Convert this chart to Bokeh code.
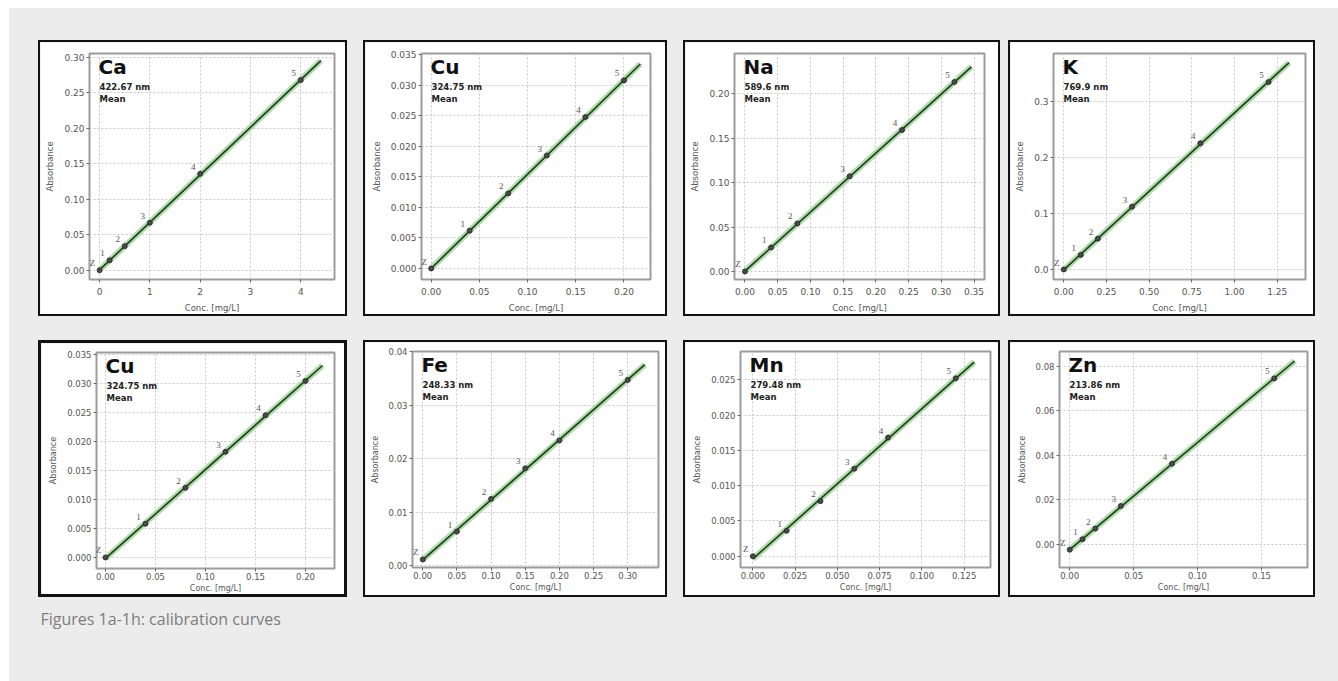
import numpy as np
from bokeh.plotting import figure
from bokeh.models import Range1d, FixedTicker, PrintfTickFormatter, ColumnDataSource, LabelSet, Label, Spacer
from bokeh.layouts import row, column
from bokeh.embed import file_html
from bokeh.resources import INLINE

# ---------------- data ----------------
elements = ["Ca", "Cu", "Na", "K", "Cu", "Fe", "Mn", "Zn"]
wavelengths = ["422.67 nm", "324.75 nm", "589.6 nm", "769.9 nm",
               "324.75 nm", "248.33 nm", "279.48 nm", "213.86 nm"]
point_labels = ["Z", "1", "2", "3", "4", "5"]
x_title = "Conc. [mg/L]"
y_title = "Absorbance"
caption = "Figures 1a-1h: calibration curves"

ca_conc = [0.0, 0.2, 0.5, 1.0, 2.0, 4.0]
ca_abs = [0.0, 0.014, 0.034, 0.067, 0.136, 0.268]
cu_conc = [0.0, 0.04, 0.08, 0.12, 0.16, 0.20]
cu_abs = [0.0, 0.0062, 0.0123, 0.0185, 0.0248, 0.0308]
na_conc = [0.0, 0.04, 0.08, 0.16, 0.24, 0.32]
na_abs = [0.0, 0.027, 0.054, 0.107, 0.159, 0.213]
k_conc = [0.0, 0.1, 0.2, 0.4, 0.8, 1.2]
k_abs = [0.0, 0.026, 0.055, 0.112, 0.225, 0.334]
cu2_conc = [0.0, 0.04, 0.08, 0.12, 0.16, 0.20]
cu2_abs = [0.0, 0.0058, 0.0120, 0.0182, 0.0245, 0.0304]
fe_conc = [0.0, 0.05, 0.10, 0.15, 0.20, 0.30]
fe_abs = [0.0012, 0.0064, 0.0125, 0.0182, 0.0234, 0.0347]
mn_conc = [0.0, 0.02, 0.04, 0.06, 0.08, 0.12]
mn_abs = [0.0, 0.0036, 0.0078, 0.0124, 0.0168, 0.0252]
zn_conc = [0.0, 0.01, 0.02, 0.04, 0.08, 0.16]
zn_abs = [-0.0025, 0.0022, 0.0070, 0.0172, 0.0362, 0.0746]

# end of the drawn calibration line (mg/L)
fit_end = [4.4, 0.217, 0.346, 1.32, 0.217, 0.325, 0.131, 0.176]

# tick values
ca_xticks = [0, 1, 2, 3, 4]
ca_yticks = [0.0, 0.05, 0.10, 0.15, 0.20, 0.25, 0.30]
cu_xticks = [0.0, 0.05, 0.10, 0.15, 0.20]
cu_yticks = [0.0, 0.005, 0.010, 0.015, 0.020, 0.025, 0.030, 0.035]
na_xticks = [0.0, 0.05, 0.10, 0.15, 0.20, 0.25, 0.30, 0.35]
na_yticks = [0.0, 0.05, 0.10, 0.15, 0.20]
k_xticks = [0.0, 0.25, 0.50, 0.75, 1.00, 1.25]
k_yticks = [0.0, 0.1, 0.2, 0.3]
fe_xticks = [0.0, 0.05, 0.10, 0.15, 0.20, 0.25, 0.30]
fe_yticks = [0.0, 0.01, 0.02, 0.03, 0.04]
mn_xticks = [0.0, 0.025, 0.050, 0.075, 0.100, 0.125]
mn_yticks = [0.0, 0.005, 0.010, 0.015, 0.020, 0.025]
zn_xticks = [0.0, 0.05, 0.10, 0.15]
zn_yticks = [0.0, 0.02, 0.04, 0.06, 0.08]

# axis extents
x_ranges = [(-0.2, 4.67), (-0.010, 0.2275), (-0.016, 0.366), (-0.06, 1.416),
            (-0.009, 0.229), (-0.015, 0.345), (-0.0073, 0.1406), (-0.008, 0.186)]
y_ranges = [(-0.013, 0.3055), (-0.0018, 0.0352), (-0.009, 0.245), (-0.0178, 0.385),
            (-0.0019, 0.0353), (-0.0003, 0.040), (-0.0016, 0.029), (-0.0105, 0.0867)]

conc_sets = [ca_conc, cu_conc, na_conc, k_conc, cu2_conc, fe_conc, mn_conc, zn_conc]
abs_sets = [ca_abs, cu_abs, na_abs, k_abs, cu2_abs, fe_abs, mn_abs, zn_abs]
xtick_sets = [ca_xticks, cu_xticks, na_xticks, k_xticks, cu_xticks, fe_xticks, mn_xticks, zn_xticks]
ytick_sets = [ca_yticks, cu_yticks, na_yticks, k_yticks, cu_yticks, fe_yticks, mn_yticks, zn_yticks]
xfmt = ["%.0f", "%.2f", "%.2f", "%.2f", "%.2f", "%.2f", "%.3f", "%.2f"]
yfmt = ["%.2f", "%.3f", "%.2f", "%.1f", "%.3f", "%.2f", "%.3f", "%.2f"]

# ---------------- layout / style ----------------
BG = "#ececec"
# outer size of each white panel (incl. its black border)
panel_w = [309, 304, 317, 307, 309, 304, 317, 307]
panel_h = [276, 276, 276, 276, 257, 257, 257, 257]
# (left, right, top, bottom) space from the panel's outer edge to the plot frame
frame_pad = [(51, 17, 11, 39), (58, 21, 13, 40), (51, 20, 8, 41), (45, 14, 11, 38),
             (58, 19, 10, 34), (49, 13, 10, 34), (57, 14, 11, 34), (51, 12, 11, 34)]
box_line = [2, 2, 2, 2, 3, 2, 2, 2]

TICK_FONT = "DejaVu Sans"


def make_panel(i):
    bw = box_line[i]
    l, r, t, b = frame_pad[i]
    top_row = i < 4
    p = figure(width=panel_w[i] - 2 * bw, height=panel_h[i] - 2 * bw, title=None,
               x_range=Range1d(*x_ranges[i]), y_range=Range1d(*y_ranges[i]),
               toolbar_location=None, output_backend="svg",
               min_border_left=l - bw, min_border_right=r - bw,
               min_border_top=t - bw, min_border_bottom=b - bw,
               styles={"border": f"{bw}px solid #111111", "box-sizing": "content-box"})
    p.border_fill_color = "white"
    p.background_fill_color = "white"
    p.outline_line_color = "#9c9c9c"
    p.outline_line_width = 2

    p.xaxis.ticker = FixedTicker(ticks=xtick_sets[i])
    p.yaxis.ticker = FixedTicker(ticks=ytick_sets[i])
    p.xaxis.formatter = PrintfTickFormatter(format=xfmt[i])
    p.yaxis.formatter = PrintfTickFormatter(format=yfmt[i])
    for ax in (p.xaxis[0], p.yaxis[0]):
        ax.axis_line_color = None
        ax.major_tick_in = 0
        ax.major_tick_out = 3
        ax.major_tick_line_color = "#666666"
        ax.minor_tick_line_color = None
        ax.major_label_text_font = TICK_FONT
        ax.major_label_text_font_size = "9px" if top_row else "8.5px"
        ax.major_label_text_color = "#555555"
        ax.axis_label_text_font = TICK_FONT
        ax.axis_label_text_font_size = "8.5px" if top_row else "8px"
        ax.axis_label_text_font_style = "normal"
        ax.axis_label_text_color = "#555555"
    p.xaxis.axis_label = x_title
    p.yaxis.axis_label = y_title
    if top_row:
        p.xaxis.major_label_standoff = 5
        p.xaxis.axis_label_standoff = 5
    else:
        p.xaxis.major_label_standoff = 1
        p.xaxis.axis_label_standoff = 1
    p.yaxis.major_label_standoff = 2
    p.yaxis.axis_label_standoff = 6

    p.grid.grid_line_color = "#c8c8c8"
    p.grid.grid_line_dash = "2 2"
    p.grid.grid_line_width = 1

    conc = np.array(conc_sets[i], dtype=float)
    ab = np.array(abs_sets[i], dtype=float)
    k, c0 = np.polyfit(conc, ab, 1)
    xs = np.array([0.0, fit_end[i]])
    ys = k * xs + c0
    p.line(xs, ys, line_color="#a6d8a0", line_width=6, line_alpha=0.9)
    p.line(xs, ys, line_color="#203a20", line_width=1.6)

    src = ColumnDataSource(dict(x=conc, y=ab, lab=point_labels))
    p.scatter("x", "y", source=src, size=5, fill_color="#4a4a4a", line_color="#222222", line_width=0.8)
    p.add_layout(LabelSet(x="x", y="y", text="lab", source=src, x_offset=-7, y_offset=7,
                          text_align="center", text_baseline="middle",
                          text_font=TICK_FONT, text_font_size="9px", text_color="#555555"))

    x0, y1 = x_ranges[i][0], y_ranges[i][1]
    p.add_layout(Label(x=x0, y=y1, x_offset=9, y_offset=-13, text=elements[i],
                       text_font="DejaVu Sans", text_font_size="20px", text_font_style="bold",
                       text_color="#111111", text_baseline="alphabetic"))
    p.add_layout(Label(x=x0, y=y1, x_offset=10, y_offset=-33, text=wavelengths[i],
                       text_font="DejaVu Sans", text_font_size="8.5px", text_font_style="bold",
                       text_color="#222222", text_baseline="alphabetic"))
    p.add_layout(Label(x=x0, y=y1, x_offset=10, y_offset=-45, text="Mean",
                       text_font="DejaVu Sans", text_font_size="8.5px", text_font_style="bold",
                       text_color="#222222", text_baseline="alphabetic"))
    return p


panels = [make_panel(i) for i in range(8)]

# gray area: x 9..1338, y 8..681
gray_w, gray_h = 1329, 673
top_gap, row_gap = 32, 24
cap_h = gray_h - top_gap - panel_h[0] - row_gap - panel_h[4]
cap = figure(width=gray_w, height=cap_h, title=None, x_range=Range1d(0, gray_w), y_range=Range1d(0, cap_h),
             toolbar_location=None, output_backend="svg", min_border=0)
cap.axis.visible = False
cap.grid.visible = False
cap.outline_line_color = None
cap.background_fill_color = BG
cap.border_fill_color = BG
cap.add_layout(Label(x=31, y=cap_h - 21, text=caption, text_font="Open Sans", text_font_size="16px",
                     text_color="#7d7d7d", text_baseline="middle"))

row1 = row(Spacer(width=29), panels[0], Spacer(width=16), panels[1], Spacer(width=16),
           panels[2], Spacer(width=8), panels[3])
row2 = row(Spacer(width=29), panels[4], Spacer(width=16), panels[5], Spacer(width=16),
           panels[6], Spacer(width=8), panels[7])

gray = column(Spacer(height=top_gap), row1, Spacer(height=row_gap), row2, cap,
              width=gray_w, height=gray_h, styles={"background-color": BG})

root = column(Spacer(height=8), row(Spacer(width=9), gray), width=1338, height=681,
              styles={"background-color": "white"})

open("out.html", "w").write(file_html(root, INLINE))
